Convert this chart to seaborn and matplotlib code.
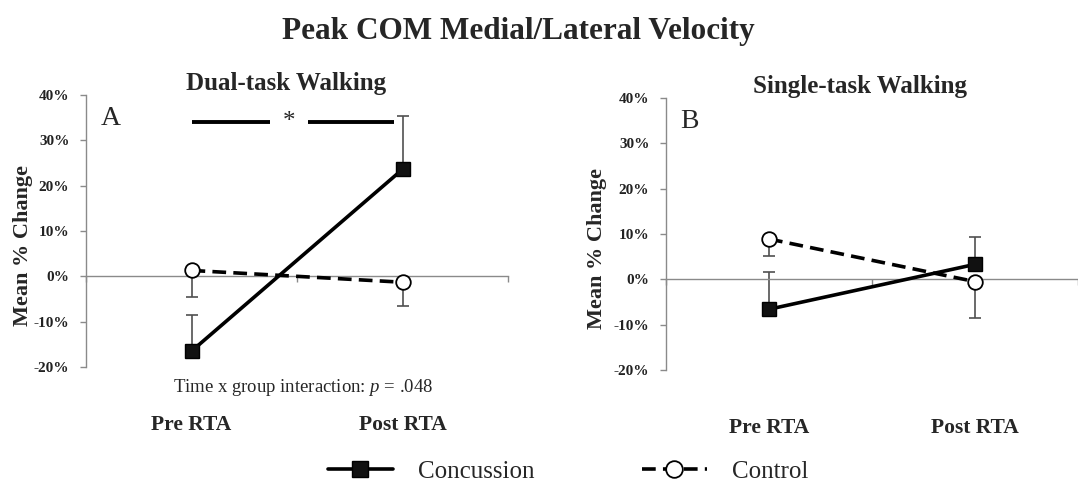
import matplotlib
matplotlib.use("Agg")
import matplotlib.pyplot as plt
from matplotlib.lines import Line2D
import seaborn as sns
import pandas as pd

# data (mean % change, one-sided SE bars)
times = ["Pre RTA", "Post RTA"]
groups = ["Concussion", "Control"]

dual_concussion = [-16.5, 23.6]
dual_concussion_err = [7.9, 11.7]
dual_control = [1.3, -1.3]
dual_control_err = [5.9, 5.3]

single_concussion = [-6.6, 3.3]
single_concussion_err = [8.3, 6.1]
single_control = [8.9, -0.5]
single_control_err = [3.8, 8.0]

yticks = [-20, -10, 0, 10, 20, 30, 40]

sns.set_theme(style="white")
plt.rcParams["font.family"] = ["Liberation Serif", "DejaVu Serif"]
plt.rcParams["mathtext.fontset"] = "custom"
plt.rcParams["mathtext.rm"] = "Liberation Serif"
plt.rcParams["mathtext.it"] = "Liberation Serif:italic"

spine_col = "#8a8a8a"
err_col = "#505050"
dash = (3.8, 2.0)


def build(conc, conc_err, ctrl, ctrl_err):
    rows = []
    for i, t in enumerate(times):
        rows.append(dict(time=t, pos=i, group="Concussion", mean=conc[i], err=conc_err[i]))
        rows.append(dict(time=t, pos=i, group="Control", mean=ctrl[i], err=ctrl_err[i]))
    return pd.DataFrame(rows)


def panel(ax, df, title, letter, xmax, label_x):
    c = df[df.group == "Concussion"]
    k = df[df.group == "Control"]
    # error bars: concussion upward, control downward
    ax.errorbar(c.pos, c["mean"], yerr=[[0] * len(c), c.err], fmt="none",
                ecolor=err_col, elinewidth=1.2, capsize=4, capthick=1.2, zorder=2)
    ax.errorbar(k.pos, k["mean"], yerr=[k.err, [0] * len(k)], fmt="none",
                ecolor=err_col, elinewidth=1.2, capsize=4, capthick=1.2, zorder=2)
    sns.lineplot(data=c, x="pos", y="mean", ax=ax, color="black", lw=2.6,
                 marker="s", markersize=10.5, markerfacecolor="#111111",
                 markeredgecolor="black", markeredgewidth=1, zorder=4)
    sns.lineplot(data=k, x="pos", y="mean", ax=ax, color="black", lw=2.6,
                 dashes=dash, marker="o", markersize=10.5, markerfacecolor="white",
                 markeredgecolor="black", markeredgewidth=1.3, zorder=3)

    ax.set_xlim(-0.5, xmax)
    ax.set_ylim(-20, 40)
    ax.set_yticks(yticks)
    ax.set_yticklabels([f"{v}%" for v in yticks], fontweight="bold", fontsize=11, color="#222222")
    ax.set_xticks([-0.5, 0.5, 1.5])
    ax.set_xticklabels([])
    ax.tick_params(axis="y", direction="out", length=4, width=1, color=spine_col, pad=8, left=True)
    ax.tick_params(axis="x", direction="out", length=4, width=1, color=spine_col, bottom=True)
    ax.spines["top"].set_visible(False)
    ax.spines["right"].set_visible(False)
    ax.spines["bottom"].set_position(("data", 0))
    for s in ("left", "bottom"):
        ax.spines[s].set_color(spine_col)
        ax.spines[s].set_linewidth(1)
    ax.set_xlabel("")
    ax.set_ylabel("Mean % Change", fontsize=16, fontweight="bold")
    ax.yaxis.set_label_coords(label_x, 0.445)
    ax.set_title(title, fontsize=18, fontweight="bold", pad=0, x=0.475)
    ax.text(0.035, 0.96, letter, transform=ax.transAxes, fontsize=20, va="top", ha="left")
    for i, t in enumerate(times):
        ax.text(i, -0.215, t, transform=ax.get_xaxis_transform(), ha="center", va="center",
                fontsize=15.5, fontweight="bold")


fig = plt.figure(figsize=(10.78, 4.94), dpi=100)
axA = fig.add_axes([86 / 1078, 1 - 367 / 494, 422 / 1078, 272 / 494])
axB = fig.add_axes([666 / 1078, 1 - 370 / 494, 412 / 1078, 272 / 494])

panel(axA, build(dual_concussion, dual_concussion_err, dual_control, dual_control_err),
      "Dual-task Walking", "A", 1.5, -0.126)
panel(axB, build(single_concussion, single_concussion_err, single_control, single_control_err),
      "Single-task Walking", "B", 1.45, -0.143)
axB.title.set_x(0.47)

# significance bracket on panel A
axA.plot([0.0, 0.37], [34, 34], color="black", lw=2.8, solid_capstyle="butt")
axA.plot([0.55, 0.96], [34, 34], color="black", lw=2.8, solid_capstyle="butt")
axA.text(0.46, 34.0, "*", ha="center", va="center", fontsize=18)
axA.text(0.514, -0.077, "Time x group interaction: $p$ = .048", transform=axA.transAxes,
         ha="center", va="center", fontsize=13.5)

fig.suptitle("Peak COM Medial/Lateral Velocity", fontsize=22.5, fontweight="bold",
             x=518 / 1078, y=0.965)

handles = [
    Line2D([], [], color="black", lw=2.6, marker="s", markersize=12,
           markerfacecolor="#111111", markeredgecolor="black"),
    Line2D([], [], color="black", lw=2.6, dashes=dash, marker="o", markersize=12,
           markerfacecolor="white", markeredgecolor="black", markeredgewidth=1.3),
]
fig.legend(handles, groups, loc="center", bbox_to_anchor=(0.527, 0.045), ncol=2,
           frameon=False, fontsize=18, handlelength=2.6, columnspacing=4.3, handletextpad=1.0)

fig.savefig("out.png", dpi=100, facecolor="w")
